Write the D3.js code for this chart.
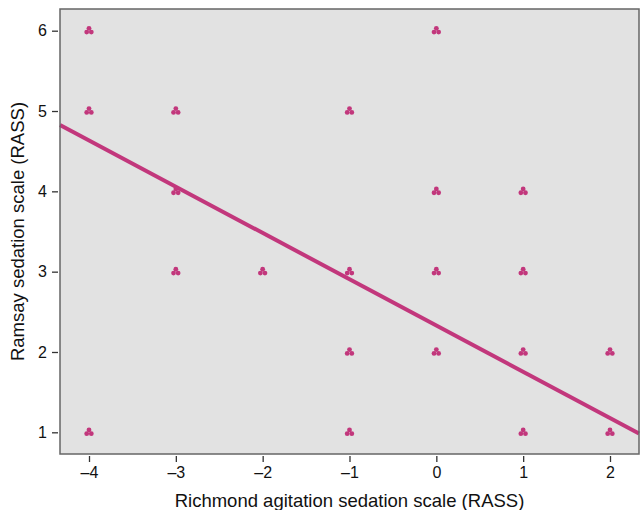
<!DOCTYPE html>
<html>
<head>
<meta charset="utf-8">
<script src="https://cdn.jsdelivr.net/npm/d3@7"></script>
<style>
  body { margin: 0; background: #fff; }
  text { font-family: "Liberation Sans", Arial, sans-serif; fill: #111; }
</style>
</head>
<body>
<div id="chart"></div>
<script>
// observations (RASS, Ramsay)
var rassVals   = [-4, 0, -4, -3, -1, -3, 0, 1, -3, -2, -1, 0, 1, -1, 0, 1, 2, -4, -1, 1, 2];
var ramsayVals = [ 6, 6,  5,  5,  5,  4, 4, 4,  3,  3,  3, 3, 3,  2, 2, 2, 2,  1,  1, 1, 1];
var xTicks = [-4, -3, -2, -1, 0, 1, 2];
var yTicks = [1, 2, 3, 4, 5, 6];
// fitted line: ramsay = intercept + slope * rass
var fitIntercept = 2.33;
var fitSlope = -0.576;

var W = 640, H = 510;
var margin = {top: 9, right: 1, bottom: 56, left: 60};
var width = W - margin.left - margin.right,
    height = H - margin.top - margin.bottom;

var pink = "#c2377c";

var svg = d3.select("#chart").append("svg")
  .attr("width", W)
  .attr("height", H);

var g = svg.append("g")
  .attr("transform", "translate(" + margin.left + "," + margin.top + ")");

var x = d3.scaleLinear().domain([-4.334, 2.334]).range([0, width]);
var y = d3.scaleLinear().domain([0.73, 6.27]).range([height, 0]);

// plot background
g.append("rect")
  .attr("width", width)
  .attr("height", height)
  .attr("fill", "#e2e2e2");

// regression line
g.append("line")
  .attr("x1", x(x.domain()[0]))
  .attr("y1", y(fitIntercept + fitSlope * x.domain()[0]))
  .attr("x2", x(x.domain()[1]))
  .attr("y2", y(fitIntercept + fitSlope * x.domain()[1]))
  .attr("stroke", pink)
  .attr("stroke-width", 4);

// sunflower-style markers
var pts = d3.range(rassVals.length).map(function(i) {
  return {rx: rassVals[i], ry: ramsayVals[i]};
});
var petals = [[0, -2.4], [-2.3, 1.4], [2.3, 1.4]];
var marks = g.selectAll(".dot")
  .data(pts)
  .enter().append("g")
  .attr("class", "dot")
  .attr("transform", function(d) { return "translate(" + x(d.rx) + "," + y(d.ry) + ")"; });
marks.selectAll("circle")
  .data(petals)
  .enter().append("circle")
  .attr("cx", function(p) { return p[0]; })
  .attr("cy", function(p) { return p[1]; })
  .attr("r", 2.4)
  .attr("fill", pink);

// frame
g.append("rect")
  .attr("width", width)
  .attr("height", height)
  .attr("fill", "none")
  .attr("stroke", "#666")
  .attr("stroke-width", 1.5);

// axes
var xAxis = g.append("g")
  .attr("transform", "translate(0," + (height + 2) + ")")
  .call(d3.axisBottom(x).tickValues(xTicks).tickSize(6).tickPadding(5)
        .tickFormat(function(d) { return d < 0 ? "\u2013" + Math.abs(d) : d; }));
xAxis.select(".domain").remove();

var yAxis = g.append("g")
  .attr("transform", "translate(-2,0)")
  .call(d3.axisLeft(y).tickValues(yTicks).tickSize(6).tickPadding(5)
        .tickFormat(d3.format("d")));
yAxis.select(".domain").remove();

svg.selectAll(".tick line").attr("stroke", "#333").attr("stroke-width", 1.3);
svg.selectAll(".tick text").attr("font-size", 16).attr("fill", "#111")
  .style("font-family", "'Liberation Sans', Arial, sans-serif");

// axis titles
svg.append("text")
  .attr("x", margin.left + x(-1))
  .attr("y", 507)
  .attr("text-anchor", "middle")
  .attr("font-size", 18.5)
  .text("Richmond agitation sedation scale (RASS)");

svg.append("text")
  .attr("transform", "translate(24," + (margin.top + y(3.5)) + ") rotate(-90)")
  .attr("text-anchor", "middle")
  .attr("font-size", 18.5)
  .text("Ramsay sedation scale (RASS)");
</script>
</body>
</html>
